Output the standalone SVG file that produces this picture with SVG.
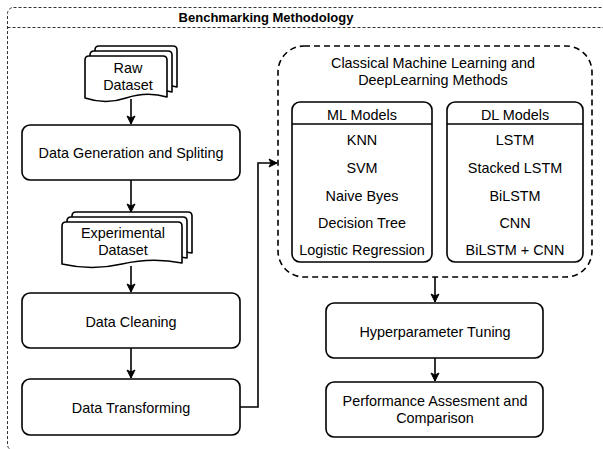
<svg xmlns="http://www.w3.org/2000/svg" width="603" height="449" viewBox="0 0 603 449">
<style>
text{font-family:"Liberation Sans",Arial,sans-serif;font-size:14.4px;fill:#000;text-anchor:middle}
.title{font-weight:bold;font-size:13px}
.box{fill:#fff;stroke:#000;stroke-width:1.6}
.doc{fill:#fff;stroke:#000;stroke-width:1.6;stroke-linejoin:round}
.frame{fill:none;stroke:#333;stroke-width:1;stroke-dasharray:3 2}
.dash{fill:none;stroke:#000;stroke-width:1.6;stroke-dasharray:6 4}
.conn{fill:none;stroke:#000;stroke-width:1.6}
</style>
<defs>
<marker id="arr" markerWidth="10" markerHeight="10" refX="9" refY="5" orient="auto" markerUnits="userSpaceOnUse">
<path d="M1,1 L9,5 L1,9 L3,5 Z" fill="#000" stroke="#000" stroke-width="1"/>
</marker>
</defs>
<rect width="603" height="449" fill="#fff"/>
<g id="frame">
<rect class="frame" x="7.5" y="7.5" width="620" height="443" rx="6"/>
<line class="frame" x1="7.5" y1="27.5" x2="603" y2="27.5"/>
<text class="title" x="266" y="22">Benchmarking Methodology</text>
</g>
<g id="connectors">
<path class="conn" d="M131,99 V124" marker-end="url(#arr)"/>
<path class="conn" d="M131,180 V212" marker-end="url(#arr)"/>
<path class="conn" d="M131,266 V292" marker-end="url(#arr)"/>
<path class="conn" d="M131,348 V378" marker-end="url(#arr)"/>
<path class="conn" d="M240,407 H258 V163 H277" marker-end="url(#arr)"/>
<path class="conn" d="M435,277 V302" marker-end="url(#arr)"/>
<path class="conn" d="M435,358 V381" marker-end="url(#arr)"/>
</g>
<g id="raw-dataset">
<path class="doc" d="M99,46 H173 Q177,46 177,50 V87 Q157,81 136,88 Q116,95 95,88 V50 Q95,46 99,46 Z"/>
<path class="doc" d="M94,51 H168 Q172,51 172,55 V92 Q152,86 131,93 Q111,100 90,93 V55 Q90,51 94,51 Z"/>
<path class="doc" d="M89,56 H163 Q167,56 167,60 V97 Q147,91 126,98 Q106,105 85,98 V60 Q85,56 89,56 Z"/>
<text x="128" y="73">Raw</text>
<text x="128" y="90">Dataset</text>
</g>
<g id="data-generation">
<rect class="box" x="22" y="125" width="218" height="55" rx="8"/>
<text x="131" y="158">Data Generation and Spliting</text>
</g>
<g id="experimental-dataset">
<path class="doc" d="M76,212 H188 Q192,212 192,216 V253 Q162,247 132,254 Q102,261 72,254 V216 Q72,212 76,212 Z"/>
<path class="doc" d="M71,217 H183 Q187,217 187,221 V258 Q157,252 127,259 Q97,266 67,259 V221 Q67,217 71,217 Z"/>
<path class="doc" d="M66,222 H178 Q182,222 182,226 V263 Q152,257 122,264 Q92,271 62,264 V226 Q62,222 66,222 Z"/>
<text x="123" y="238">Experimental</text>
<text x="123" y="255">Dataset</text>
</g>
<g id="data-cleaning">
<rect class="box" x="22" y="293" width="218" height="55" rx="8"/>
<text x="131" y="327">Data Cleaning</text>
</g>
<g id="data-transforming">
<rect class="box" x="22" y="379" width="218" height="56" rx="8"/>
<text x="131" y="413">Data Transforming</text>
</g>
<g id="methods">
<rect class="dash" x="278" y="46" width="314" height="231" rx="26"/>
<text x="433" y="68">Classical Machine Learning and</text>
<text x="433" y="85">DeepLearning Methods</text>
</g>
<g id="ml-models">
<rect class="box" x="292" y="102" width="140" height="160" rx="8"/>
<line class="conn" x1="292" y1="124" x2="432" y2="124"/>
<text x="362" y="120">ML Models</text>
<text x="362" y="145">KNN</text>
<text x="362" y="173">SVM</text>
<text x="362" y="201">Naive Byes</text>
<text x="362" y="228">Decision Tree</text>
<text x="362" y="255">Logistic Regression</text>
</g>
<g id="dl-models">
<rect class="box" x="447" y="102" width="136" height="160" rx="8"/>
<line class="conn" x1="447" y1="124" x2="583" y2="124"/>
<text x="515" y="120">DL Models</text>
<text x="515" y="145">LSTM</text>
<text x="515" y="173">Stacked LSTM</text>
<text x="515" y="201">BiLSTM</text>
<text x="515" y="228">CNN</text>
<text x="515" y="255">BiLSTM + CNN</text>
</g>
<g id="hyperparameter-tuning">
<rect class="box" x="326" y="303" width="217" height="55" rx="8"/>
<text x="435" y="337">Hyperparameter Tuning</text>
</g>
<g id="performance">
<rect class="box" x="326" y="382" width="217" height="55" rx="8"/>
<text x="435" y="406">Performance Assesment and</text>
<text x="435" y="423">Comparison</text>
</g>
</svg>
